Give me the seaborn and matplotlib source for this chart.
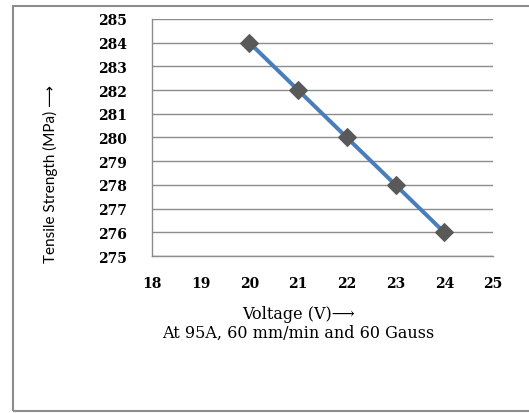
import seaborn as sns
import matplotlib.pyplot as plt
import pandas as pd
from matplotlib.patches import Rectangle

# data
voltage = [20, 21, 22, 23, 24]
strength = [284, 282, 280, 278, 276]
xticks = [18, 19, 20, 21, 22, 23, 24, 25]
yticks = [275, 276, 277, 278, 279, 280, 281, 282, 283, 284, 285]

df = pd.DataFrame({'Voltage': voltage, 'Strength': strength})

sns.set_style('white')
plt.rcParams['font.family'] = ['DejaVu Serif', 'DejaVu Sans']
plt.rcParams['text.color'] = 'black'
plt.rcParams['xtick.labelcolor'] = 'black'
plt.rcParams['ytick.labelcolor'] = 'black'

fig = plt.figure(figsize=(5.29, 4.14), dpi=100)
ax = fig.add_axes([0.287, 0.379, 0.645, 0.573])

# outer chart border (right edge cut off in the original)
fig.patches.append(Rectangle((13 / 529, 2 / 414), 1.0, 405 / 414, transform=fig.transFigure,
                             fill=False, edgecolor='#8c8c8c', linewidth=1.5))

sns.lineplot(data=df, x='Voltage', y='Strength', ax=ax, color='#4a7ebb', linewidth=2.9,
             marker='D', markersize=9, markerfacecolor='#595959', markeredgecolor='#595959')

ax.set_xlim(18, 25)
ax.set_ylim(275, 285)
ax.set_xticks(xticks)
ax.set_yticks(yticks)
ax.set_xticklabels([str(t) for t in xticks], fontweight='bold', fontsize=10)
ax.set_yticklabels([str(t) for t in yticks], fontweight='bold', fontsize=10)

ax.grid(axis='y', color='#8c8c8c', linewidth=1)
ax.grid(axis='x', visible=False)
for s in ['top', 'right']:
    ax.spines[s].set_visible(False)
for s in ['left', 'bottom']:
    ax.spines[s].set_color('#8c8c8c')
    ax.spines[s].set_linewidth(1)
ax.tick_params(axis='both', direction='out', length=6, color='#8c8c8c', width=1)
ax.tick_params(axis='y', pad=12)
ax.tick_params(axis='x', pad=8)

ax.set_xlabel('Voltage (V)\u27f6\nAt 95A, 60 mm/min and 60 Gauss', fontsize=11.5,
              family=['DejaVu Serif', 'DejaVu Sans'], linespacing=1.2, color='black')
ax.xaxis.set_label_coords(0.43, -0.205, transform=ax.transAxes)
ax.xaxis.label.set_va('top')
ax.set_ylabel('Tensile Strength (MPa) \u27f6', fontsize=11,
              family=['Lato', 'DejaVu Sans'], color='black')
ax.yaxis.set_label_coords(-0.275, 0.35, transform=ax.transAxes)

plt.savefig('out.png', dpi=100)
